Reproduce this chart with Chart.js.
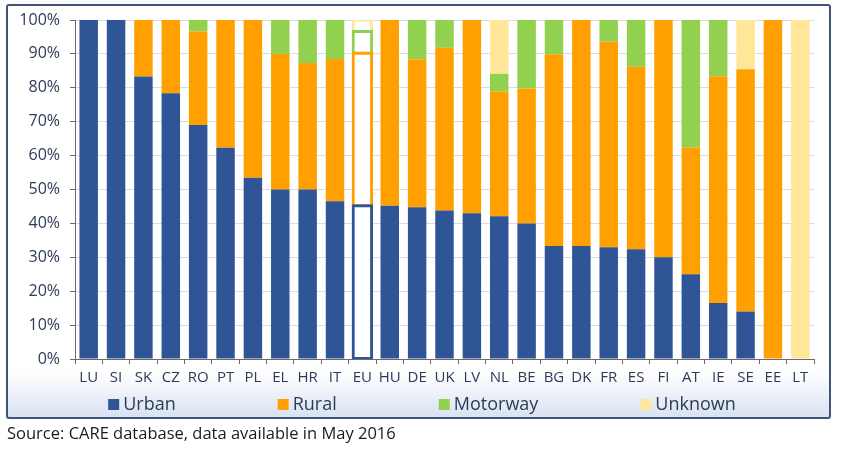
<!DOCTYPE html>
<html><head><meta charset="utf-8">
<script src="https://cdn.jsdelivr.net/npm/chart.js@4"></script>
<style>
html,body{margin:0;padding:0;background:#fff;}
#wrap{position:relative;width:844px;height:450px;overflow:hidden;}
#frame{position:absolute;left:6px;top:4px;width:821px;height:411px;border:2px solid #3f5479;border-radius:3px;background:linear-gradient(to bottom,#ffffff 0%,#ffffff 89%,#d9e2f2 100%);}
#c{position:absolute;left:0;top:0;}
#src{position:absolute;left:7px;top:421px;font:16.5px 'Open Sans';color:#1b1b1b;white-space:nowrap;}
</style></head><body>
<div id="wrap"><div id="frame"></div><canvas id="c" width="844" height="450"></canvas><div id="src">Source: CARE database, data available in May 2016</div></div>
<script>
const categories = ['LU','SI','SK','CZ','RO','PT','PL','EL','HR','IT','EU','HU','DE','UK','LV','NL','BE','BG','DK','FR','ES','FI','AT','IE','SE','EE','LT'];
const urban    = [100,100,83.3,78.4,69.0,62.3,53.5,50.0,50.0,46.5,45.2,45.2,44.8,43.8,43.0,42.1,40.0,33.3,33.3,33.0,32.4,30.0,25.0,16.5,14.0,0,0];
const rural    = [0,0,16.7,21.6,27.6,37.7,46.5,40.0,37.3,42.0,45.0,54.8,43.6,48.0,57.0,36.8,39.8,56.6,66.7,60.6,53.8,70.0,37.4,66.9,71.5,100,0];
const motorway = [0,0,0,0,3.4,0,0,10.0,12.7,11.5,6.4,0,11.6,8.2,0,5.2,20.2,10.1,0,6.4,13.8,0,37.6,16.6,0,0,0];
const unknown  = [0,0,0,0,0,0,0,0,0,0,3.4,0,0,0,0,15.9,0,0,0,0,0,0,0,0,14.5,0,100];
const yTickValues = [0,10,20,30,40,50,60,70,80,90,100];
const seriesNames = ['Urban','Rural','Motorway','Unknown'];
const seriesColors = ['#2f5597','#ffa000','#92d050','#ffe699'];
const highlightCategory = 'EU';

const textColor = '#2d3b57';
const axisColor = '#6b6b6b';
const euIndex = categories.indexOf(highlightCategory);
Chart.defaults.font.family = "'Open Sans'";
Chart.defaults.color = textColor;

function ds(label, data, color){
  return {
    label, data, legendColor: color,
    backgroundColor: c => c.dataIndex === euIndex ? '#ffffff' : color,
    borderColor: color,
    borderWidth: c => c.dataIndex === euIndex ? 3 : 0,
    borderSkipped: false,
    inflateAmount: c => c.dataIndex === euIndex ? 1.5 : 0,
    categoryPercentage: 1,
    barPercentage: 0.675
  };
}
const seriesData = [urban, rural, motorway, unknown];

const gapLegend = {
  id: 'gapLegend',
  afterDraw(chart){
    const ctx = chart.ctx;
    ctx.save();
    ctx.font = "18px 'Open Sans'";
    const box = 11, gap = 4, spacing = 102, cy = 405;
    const items = chart.data.datasets.map(d => ({text: d.label, color: d.legendColor}));
    const widths = items.map(it => box + gap + ctx.measureText(it.text).width);
    const total = widths.reduce((a,b)=>a+b,0) + spacing*(items.length-1);
    let x = (chart.width - total)/2;
    ctx.textBaseline = 'middle';
    ctx.textAlign = 'left';
    items.forEach((it,i) => {
      ctx.fillStyle = it.color;
      ctx.fillRect(x, cy-6, box, box);
      ctx.fillStyle = textColor;
      ctx.fillText(it.text, x + box + gap, cy);
      x += widths[i] + spacing;
    });
    ctx.restore();
  }
};

new Chart(document.getElementById('c'), {
  type: 'bar',
  data: {
    labels: categories,
    datasets: seriesNames.map((n,i) => ds(n, seriesData[i], seriesColors[i]))
  },
  options: {
    responsive: false,
    animation: false,
    layout: { padding: { top: 20, right: 30, left: 0, bottom: 61 } },
    plugins: { legend: { display: false }, tooltip: { enabled: false } },
    scales: {
      x: {
        stacked: true,
        ticks: { font: { size: 15 }, color: textColor, padding: 5, autoSkip: false, maxRotation: 0 },
        grid: { drawOnChartArea: false, tickLength: 5, tickColor: axisColor, offset: true },
        border: { color: axisColor, width: 1 },
        afterFit: s => { s.height = 30; }
      },
      y: {
        stacked: true, min: 0, max: 100,
        afterBuildTicks: s => { s.ticks = yTickValues.map(v => ({value: v})); },
        ticks: { callback: v => v + '%', font: { size: 16 }, color: textColor, padding: 10 },
        grid: { color: '#dcdcdc', tickColor: axisColor, tickLength: 5 },
        border: { color: axisColor, width: 1 },
        afterFit: s => { s.width = 75; }
      }
    }
  },
  plugins: [gapLegend]
});
</script>
</body></html>
